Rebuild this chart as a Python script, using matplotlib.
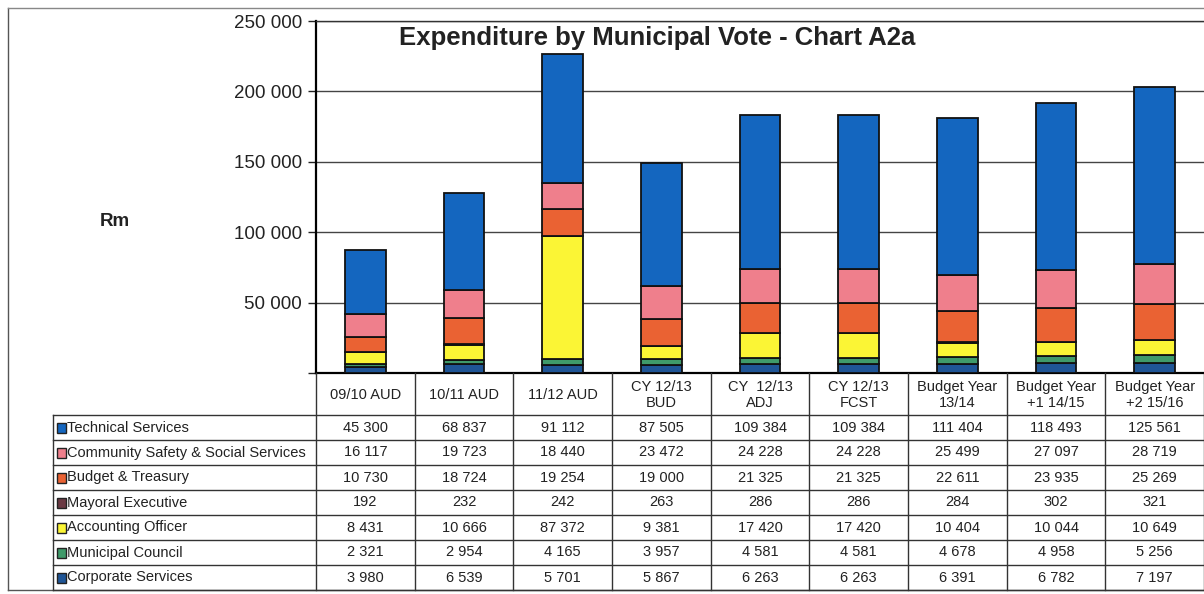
import matplotlib
matplotlib.use("Agg")
import matplotlib.pyplot as plt
from matplotlib.patches import Rectangle
from matplotlib.lines import Line2D
import numpy as np

plt.rcParams["font.family"] = ["Liberation Sans", "DejaVu Sans"]

categories = ["09/10 AUD", "10/11 AUD", "11/12 AUD", "CY 12/13\nBUD", "CY  12/13\nADJ",
              "CY 12/13\nFCST", "Budget Year\n13/14", "Budget Year\n+1 14/15", "Budget Year\n+2 15/16"]

corporate = [3980, 6539, 5701, 5867, 6263, 6263, 6391, 6782, 7197]
council = [2321, 2954, 4165, 3957, 4581, 4581, 4678, 4958, 5256]
accounting = [8431, 10666, 87372, 9381, 17420, 17420, 10404, 10044, 10649]
mayoral = [192, 232, 242, 263, 286, 286, 284, 302, 321]
treasury = [10730, 18724, 19254, 19000, 21325, 21325, 22611, 23935, 25269]
community = [16117, 19723, 18440, 23472, 24228, 24228, 25499, 27097, 28719]
technical = [45300, 68837, 91112, 87505, 109384, 109384, 111404, 118493, 125561]

# stacked bottom-to-top
series = [
    ("Corporate Services", corporate, "#1f5596"),
    ("Municipal Council", council, "#3f9a6a"),
    ("Accounting Officer", accounting, "#fbf535"),
    ("Mayoral Executive", mayoral, "#6b3a44"),
    ("Budget & Treasury", treasury, "#ea6233"),
    ("Community Safety & Social Services", community, "#ef7f8c"),
    ("Technical Services", technical, "#1466bf"),
]
yticks = [0, 50000, 100000, 150000, 200000, 250000]
ytick_labels = ["", "50 000", "100 000", "150 000", "200 000", "250 000"]

W, H = 1204, 594
fig = plt.figure(figsize=(W / 100, H / 100), dpi=100)

def fx(px):
    return px / W

def fy(py):
    return 1 - py / H

ax_left, ax_right, ax_top, ax_bot = 316, 1204, 21, 373
ax = fig.add_axes([fx(ax_left), fy(ax_bot), fx(ax_right - ax_left), (ax_bot - ax_top) / H])
n = len(categories)
x = np.arange(n)
bottom = np.zeros(n)
for name, vals, col in series:
    ax.bar(x, vals, width=0.41, bottom=bottom, color=col, edgecolor="#111111", linewidth=1.3, zorder=3)
    bottom += np.array(vals)

ax.set_xlim(-0.5, n - 0.5)
ax.set_ylim(0, 250000)
ax.set_yticks(yticks)
ax.set_yticklabels(ytick_labels, fontsize=13.5)
ax.set_xticks([])
ax.yaxis.grid(True, color="#444444", linewidth=1.0, zorder=0)
ax.tick_params(axis="y", direction="out", length=6, width=1, colors="#222222", pad=4)
ax.spines["right"].set_visible(False)
ax.spines["left"].set_linewidth(1.6)
ax.spines["bottom"].set_linewidth(1.6)
ax.spines["top"].set_linewidth(1.0)
ax.spines["top"].set_color("#333333")

fig.text(fx(657), fy(38), "Expenditure by Municipal Vote - Chart A2a", ha="center", va="center",
         fontsize=18.5, fontweight="bold", color="#222222")
fig.text(fx(115), fy(222), "Rm", ha="center", va="center", fontsize=13.5, fontweight="bold", color="#222222")

# data table drawn in pixel space
tab = fig.add_axes([0, 0, 1, 1])
tab.set_xlim(0, W)
tab.set_ylim(H, 0)
tab.axis("off")

col_w = (ax_right - ax_left) / n
header_top, header_bot = 373, 415
row_h = 25
rows = list(reversed(series))
table_bot = header_bot + row_h * len(rows)
label_left = 53
lc = "#333333"
lw = 1.0

# outer page border
tab.add_line(Line2D([8, 8], [8, 590], color="#555555", lw=1.0))
tab.add_line(Line2D([8, W], [8, 8], color="#888888", lw=1.0))
tab.add_line(Line2D([8, W], [590, 590], color="#555555", lw=1.0))

# table grid
for i in range(n + 1):
    xx = ax_left + i * col_w
    tab.add_line(Line2D([xx, xx], [header_top, table_bot], color=lc, lw=lw))
tab.add_line(Line2D([label_left, label_left], [header_bot, table_bot], color=lc, lw=lw))
for r in range(len(rows) + 1):
    yy = header_bot + r * row_h
    tab.add_line(Line2D([label_left, W], [yy, yy], color=lc, lw=lw))

for i, c in enumerate(categories):
    tab.text(ax_left + (i + 0.5) * col_w, (header_top + header_bot) / 2 + 1, c, ha="center", va="center",
             fontsize=10.5, color="#222222", linespacing=1.2)

for r, (name, vals, col) in enumerate(rows):
    yc = header_bot + (r + 0.5) * row_h
    tab.add_patch(Rectangle((57, yc - 5), 9, 10, facecolor=col, edgecolor="#222222", lw=1.0))
    tab.text(67, yc, name, ha="left", va="center", fontsize=10.5, color="#222222")
    for i, v in enumerate(vals):
        txt = f"{v:,}".replace(",", " ")
        tab.text(ax_left + (i + 0.5) * col_w, yc, txt, ha="center", va="center", fontsize=10.5, color="#222222")

fig.savefig("out.png", dpi=100)
